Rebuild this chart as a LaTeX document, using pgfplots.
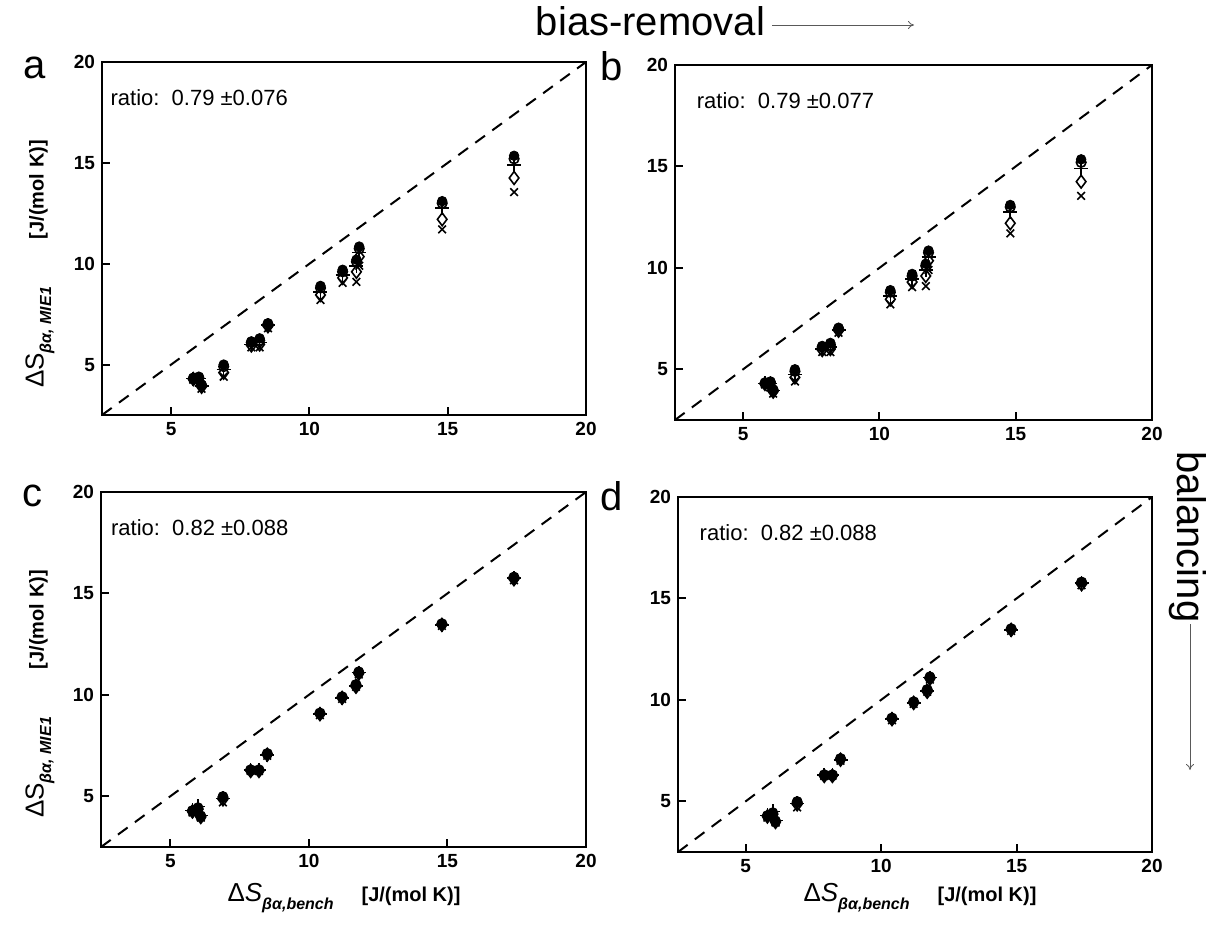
\documentclass[border=0pt]{standalone}
\usepackage{fontspec}
\setmainfont{Liberation Sans}
\usepackage{pgfplots}
\pgfplotsset{compat=1.18}
\usepackage{pgfplotstable}
\usetikzlibrary{arrows.meta}

\pgfplotstableread{
x fc oc pl di xx
5.8 4.35 4.30 4.30 4.28 4.25
6.0 4.40 4.35 4.30 4.20 4.10
6.1 4.00 3.98 3.95 3.90 3.80
6.9 5.00 4.90 4.75 4.60 4.40
7.9 6.15 6.10 6.00 5.95 5.85
8.2 6.30 6.20 6.10 6.00 5.85
8.5 7.05 7.00 6.95 6.90 6.80
10.4 8.90 8.80 8.60 8.45 8.20
11.2 9.70 9.60 9.45 9.30 9.05
11.7 10.20 10.10 9.90 9.60 9.10
11.8 10.85 10.75 10.55 10.35 9.90
14.8 13.10 13.00 12.75 12.20 11.70
17.4 15.35 15.20 14.90 14.25 13.55
}\dataA

\pgfplotstableread{
x fc oc pl di xx
5.8 4.30 4.28 4.30 4.25 4.20
6.0 4.45 4.40 4.50 4.35 4.35
6.1 4.05 4.00 4.05 3.98 3.95
6.9 5.00 4.95 4.90 4.85 4.70
7.9 6.30 6.30 6.30 6.25 6.25
8.2 6.30 6.30 6.30 6.25 6.25
8.5 7.10 7.10 7.05 7.05 7.00
10.4 9.10 9.10 9.05 9.05 9.00
11.2 9.90 9.90 9.85 9.85 9.80
11.7 10.50 10.50 10.45 10.40 10.40
11.8 11.15 11.10 11.10 11.05 11.00
14.8 13.50 13.50 13.45 13.45 13.40
17.4 15.80 15.80 15.75 15.70 15.65
}\dataC

\pgfplotsset{
  panel/.style={scale only axis, anchor=south west,
    xmin=2.5, xmax=20, ymin=2.5, ymax=20,
    xtick={5,10,15,20}, ytick={5,10,15,20},
    tick align=inside, xtick pos=bottom, ytick pos=left,
    major tick length=4pt,
    axis line style={line width=1pt},
    every tick/.append style={line width=1pt, black},
    tick label style={font=\fontsize{9.5}{10}\selectfont\bfseries},
    /pgf/number format/assume math mode=true,
    clip=false},
}

\newcommand{\stack}[1]{%
  \addplot[black, line width=1pt, dash pattern=on 6pt off 4.5pt] coordinates {(2.5,2.5) (20,20)};
  \addplot[only marks, mark=o, mark size=2.4pt, mark options={fill=white, line width=0.8pt, solid}] table[x=x,y=oc]{#1};
  \addplot[only marks, mark=*, mark size=2.4pt, mark options={fill=black, solid}] table[x=x,y=fc]{#1};
  \addplot[only marks, mark=+, mark size=3.5pt, mark options={line width=0.8pt, solid}] table[x=x,y=pl]{#1};
  \addplot[only marks, mark=diamond, mark size=3.2pt, mark options={line width=0.8pt, solid}] table[x=x,y=di]{#1};
  \addplot[only marks, mark=x, mark size=2.7pt, mark options={line width=0.8pt, solid}] table[x=x,y=xx]{#1};
}

\newcommand{\ylab}{{\fontsize{13}{14}\selectfont ΔS}\raisebox{-0.7ex}{\fontsize{8}{9}\selectfont\bfseries\itshape βα, MIE1}\hspace{2.4em}{\fontsize{10}{11}\selectfont\bfseries [J/(mol K)]}}
\newcommand{\xlab}{{\fontsize{13}{14}\selectfont Δ\textit{S}}\raisebox{-0.7ex}{\fontsize{8}{9}\selectfont\bfseries\itshape βα,bench}\hspace{1.4em}{\fontsize{10}{11}\selectfont\bfseries [J/(mol K)]}}

\begin{document}
\begin{tikzpicture}
\path[use as bounding box] (0,0) rectangle (607.5pt,-463pt);

% panel a
\begin{axis}[panel, at={(51pt,-207.5pt)}, width=242pt, height=176.5pt]
\stack{\dataA}
\node[anchor=west, inner sep=0pt, font=\fontsize{11}{12}\selectfont] at (rel axis cs:0.017,0.9) {ratio:\ \ 0.79 ±0.076};
\end{axis}

% panel b
\begin{axis}[panel, at={(337.5pt,-210pt)}, width=238.5pt, height=177.5pt]
\stack{\dataA}
\node[anchor=west, inner sep=0pt, font=\fontsize{11}{12}\selectfont] at (rel axis cs:0.045,0.9) {ratio:\ \ 0.79 ±0.077};
\end{axis}

% panel c
\begin{axis}[panel, at={(50.5pt,-423.5pt)}, width=242.5pt, height=177.5pt]
\stack{\dataC}
\node[anchor=west, inner sep=0pt, font=\fontsize{11}{12}\selectfont] at (rel axis cs:0.02,0.9) {ratio:\ \ 0.82 ±0.088};
\end{axis}

% panel d
\begin{axis}[panel, at={(339pt,-426pt)}, width=237pt, height=177.5pt]
\stack{\dataC}
\node[anchor=west, inner sep=0pt, font=\fontsize{11}{12}\selectfont] at (rel axis cs:0.045,0.9) {ratio:\ \ 0.82 ±0.088};
\end{axis}

% panel letters
\node[font=\fontsize{20}{22}\selectfont] at (17.5pt,-34pt) {a};
\node[font=\fontsize{20}{22}\selectfont] at (306pt,-33pt) {b};
\node[font=\fontsize{20}{22}\selectfont] at (16.5pt,-248pt) {c};
\node[font=\fontsize{20}{22}\selectfont] at (306pt,-248pt) {d};

% axis labels
\node[rotate=90] at (20pt,-132pt) {\ylab};
\node[rotate=90] at (20pt,-347pt) {\ylab};
\node at (172pt,-449pt) {\xlab};
\node at (460pt,-449pt) {\xlab};

% top / side titles
\node[font=\fontsize{20}{22}\selectfont, anchor=east] at (386pt,-10.5pt) {bias-removal};
\draw[gray!70!black, line width=0.4pt, -{To[length=3pt,width=4pt]}] (386pt,-12.5pt) -- (457pt,-12.5pt);
\node[font=\fontsize{20}{22}\selectfont, rotate=-90, anchor=west] at (594pt,-222pt) {balancing};
\draw[gray!70!black, line width=0.4pt, -{To[length=3pt,width=4pt]}] (595pt,-312pt) -- (595pt,-385pt);
\end{tikzpicture}
\end{document}
